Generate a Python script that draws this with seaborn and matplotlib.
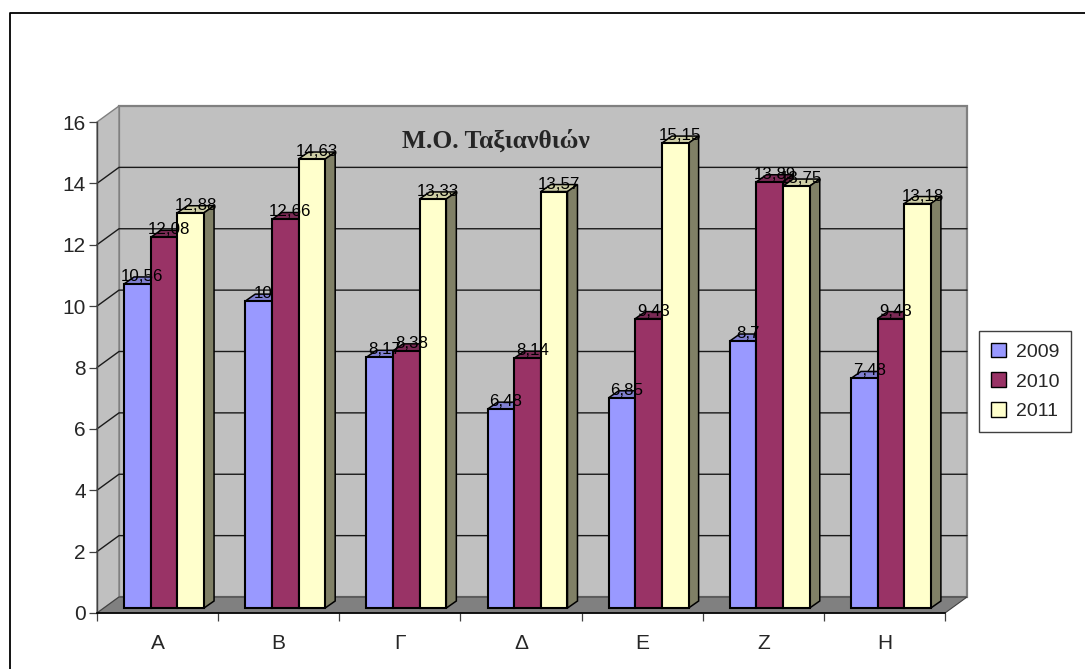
import matplotlib
matplotlib.use("Agg")
import matplotlib.pyplot as plt
import pandas as pd
import seaborn as sns
from matplotlib.lines import Line2D
from matplotlib.patches import Patch, Polygon, Rectangle

# ----------------------------------------------------------
# Data
# ----------------------------------------------------------

CLASSES = ["Α", "Β", "Γ", "Δ", "Ε", "Ζ", "Η"]
YEARS = ["2009", "2010", "2011"]

VALUES_2009 = [10.56, 10, 8.17, 6.48, 6.85, 8.7, 7.48]
VALUES_2010 = [12.08, 12.66, 8.38, 8.14, 9.43, 13.89, 9.43]
VALUES_2011 = [12.88, 14.63, 13.33, 13.57, 15.15, 13.75, 13.18]

FRONT = ["#9999FF", "#993366", "#FFFFCC"]
TOP = ["#7F7FD0", "#7A2A55", "#CFCFA6"]
SIDE = ["#6F6FB8", "#66233F", "#808066"]

# ----------------------------------------------------------
# Pixel geometry of the fake 3D box
# ----------------------------------------------------------

W, H = 1085, 669
LEFT, RIGHT, BASE, TOPY = 97, 945, 613, 122

PX_X = 7 / (RIGHT - LEFT)
PX_Y = 16 / (BASE - TOPY)

WALL_X, WALL_Y = 22 * PX_X, 16 * PX_Y
BAR_X, BAR_Y = 6.5 * PX_X, 5 * PX_Y
DEPTH_X, DEPTH_Y = 10 * PX_X, 7 * PX_Y

sns.set_style("white")
plt.rcParams["font.family"] = ["Liberation Sans", "DejaVu Sans"]

data = pd.DataFrame({
    "class": CLASSES * 3,
    "year": [y for y in YEARS for _ in CLASSES],
    "value": VALUES_2009 + VALUES_2010 + VALUES_2011,
})

fig = plt.figure(figsize=(W / 100, H / 100), dpi=100)
ax = fig.add_axes([
    LEFT / W,
    (H - BASE) / H,
    (RIGHT - LEFT) / W,
    (BASE - TOPY) / H,
])

sns.barplot(
    data=data,
    x="class",
    y="value",
    hue="year",
    hue_order=YEARS,
    palette=FRONT,
    width=0.66,
    gap=0,
    saturation=1,
    errorbar=None,
    legend=False,
    edgecolor="black",
    linewidth=1.5,
    ax=ax,
)

ax.set_xlim(-0.5, 6.5)
ax.set_ylim(0, 16)
ax.set_xlabel("")
ax.set_ylabel("")

# ----------------------------------------------------------
# Walls, floor and gridlines
# ----------------------------------------------------------

x0, x1 = -0.5, 6.5
WALL_GREY = "#C0C0C0"
EDGE_GREY = "#808080"

ax.add_patch(Rectangle(
    (x0 + WALL_X, WALL_Y), 7, 16,
    facecolor=WALL_GREY, edgecolor=EDGE_GREY, linewidth=1.6,
    zorder=0.1, clip_on=False,
))
ax.add_patch(Polygon(
    [(x0, 0), (x0 + WALL_X, WALL_Y), (x0 + WALL_X, 16 + WALL_Y), (x0, 16)],
    facecolor=WALL_GREY, edgecolor=EDGE_GREY, linewidth=1.0,
    zorder=0.2, clip_on=False,
))
ax.add_patch(Polygon(
    [(x0, 0), (x1, 0), (x1 + WALL_X, WALL_Y), (x0 + WALL_X, WALL_Y)],
    facecolor=EDGE_GREY, edgecolor="#404040", linewidth=0.8,
    zorder=0.3, clip_on=False,
))

for level in range(2, 16, 2):
    ax.plot(
        [x0, x0 + WALL_X, x1 + WALL_X],
        [level, level + WALL_Y, level + WALL_Y],
        color="#1A1A1A",
        linewidth=1.0,
        zorder=0.4,
        clip_on=False,
    )

# ----------------------------------------------------------
# Turn the flat bars into boxes
# ----------------------------------------------------------

bars = list(ax.patches)[:21]
order = sorted(range(21), key=lambda i: (i % 7, i // 7))

for rank, i in enumerate(order):
    bar = bars[i]
    series = i // 7
    z = 1 + rank * 0.1

    bar.set_x(bar.get_x() + BAR_X)
    bar.set_y(bar.get_y() + BAR_Y)
    bar.set_clip_on(False)
    bar.set_zorder(z + 0.05)
    bar.set_joinstyle("miter")

    bx0 = bar.get_x()
    bx1 = bx0 + bar.get_width()
    by0 = bar.get_y()
    by1 = by0 + bar.get_height()

    ax.add_patch(Polygon(
        [(bx0, by1), (bx1, by1), (bx1 + DEPTH_X, by1 + DEPTH_Y), (bx0 + DEPTH_X, by1 + DEPTH_Y)],
        facecolor=TOP[series], edgecolor="black", linewidth=1.1,
        zorder=z, clip_on=False,
    ))
    ax.add_patch(Polygon(
        [(bx1, by0), (bx1 + DEPTH_X, by0 + DEPTH_Y), (bx1 + DEPTH_X, by1 + DEPTH_Y), (bx1, by1)],
        facecolor=SIDE[series], edgecolor="black", linewidth=1.1,
        zorder=z, clip_on=False,
    ))

    value = data["value"].iloc[i]
    ax.text(
        (bx0 + bx1) / 2 + 5 * PX_X,
        by1 + 7.5 * PX_Y,
        f"{value:g}".replace(".", ","),
        ha="center",
        va="center",
        fontsize=12.2,
        color="black",
        zorder=10,
        clip_on=False,
    )

# ----------------------------------------------------------
# Axes, ticks and text
# ----------------------------------------------------------

sns.despine(ax=ax, top=True, right=True)
ax.spines["left"].set_color("#404040")
ax.spines["left"].set_linewidth(1.0)
ax.spines["bottom"].set_color("black")
ax.spines["bottom"].set_linewidth(1.2)

ax.set_yticks(range(0, 18, 2))
ax.tick_params(
    axis="y", which="major", left=True, length=6, width=0.9,
    color="#404040", pad=2, labelsize=15,
)
ax.set_xticks([i - 0.5 for i in range(8)], labels=[""] * 8)
ax.set_xticks(range(7), labels=CLASSES, minor=True)
ax.tick_params(axis="x", which="major", bottom=True, length=6, width=0.9, color="#404040")
ax.tick_params(axis="x", which="minor", bottom=False, length=0, pad=15, labelsize=15)

fig.text(
    496 / W,
    1 - 141 / H,
    "Μ.Ο. Ταξιανθιών",
    family="Liberation Serif",
    fontweight="bold",
    fontsize=18.4,
    ha="center",
    va="center",
    zorder=20,
)

handles = [
    Patch(facecolor=c, edgecolor="black", linewidth=1.0, label=y)
    for c, y in zip(FRONT, YEARS)
]
fig.legend(
    handles=handles,
    loc="center",
    bbox_to_anchor=(1025 / W, 1 - 381.5 / H),
    fontsize=14,
    fancybox=False,
    framealpha=1,
    edgecolor="#404040",
    handlelength=0.8,
    handleheight=0.8,
    handletextpad=0.5,
    labelspacing=0.6,
    borderpad=0.6,
    borderaxespad=0,
)

# outer chart frame: only the top and left edges fall inside the picture
fig.add_artist(Line2D(
    [10 / W, 10 / W, 1],
    [0, 1 - 13 / H, 1 - 13 / H],
    color="black",
    linewidth=1.3,
))

plt.savefig("out.png", dpi=100)
plt.close()
